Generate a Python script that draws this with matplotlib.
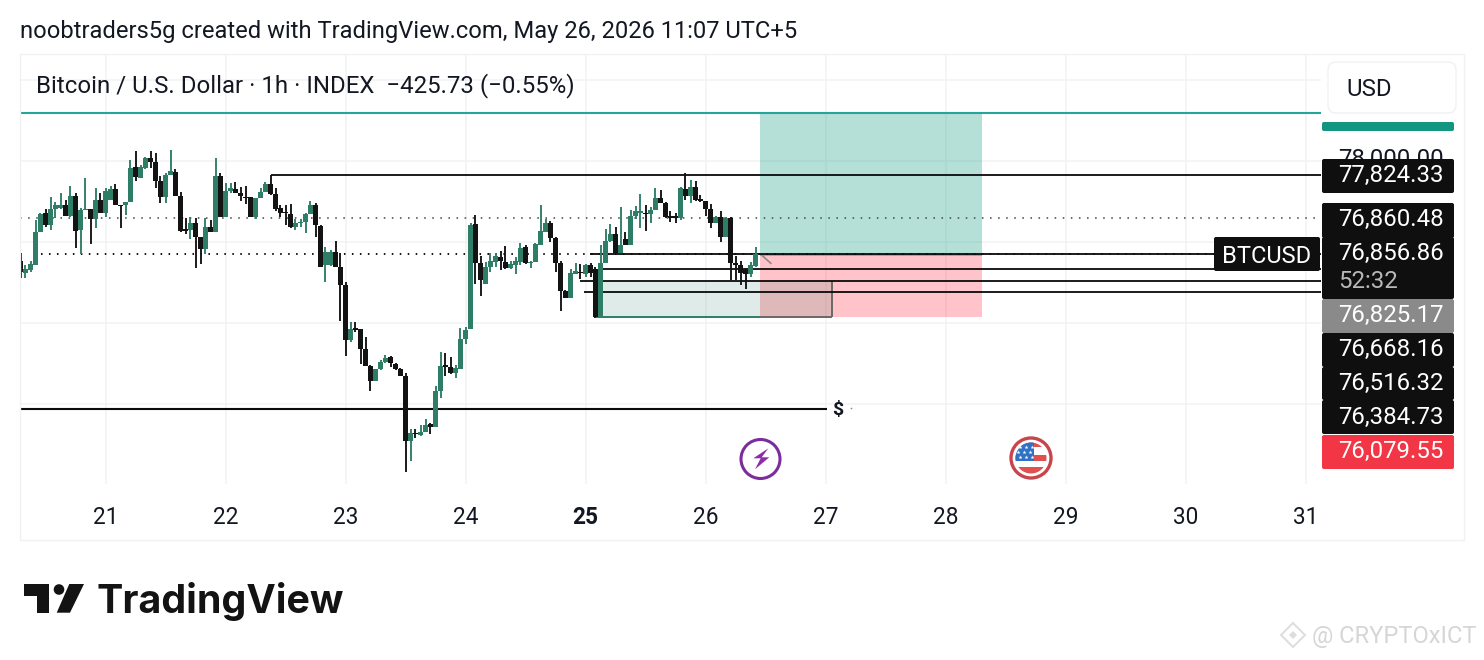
import numpy as np
import matplotlib
matplotlib.use('Agg')
import matplotlib.pyplot as plt
from matplotlib.patches import Rectangle, FancyBboxPatch, Circle, Polygon

plt.rcParams['font.family'] = ['Roboto', 'DejaVu Sans']

# hourly candles
opens = [
    76770, 76622, 76655, 76716, 77128, 77354, 77210, 77404, 77416, 77457,
    77321, 77572, 77149, 77395, 77408, 77280, 77519, 77354, 77519, 77650,
    77457, 77453, 77498, 77922, 77795, 77910, 78033, 77984, 77757, 77560,
    77827, 77869, 77572, 77157, 77149, 77231, 77066, 76918, 77190, 77128,
    77815, 77305, 77630, 77655, 77609, 77560, 77560, 77313, 77539, 77613,
    77716, 77593, 77416, 77375, 77342, 77190, 77231, 77251, 77346, 77457,
    77202, 76716, 76716, 76881, 76688, 76470, 75791, 75935, 75922, 75675,
    75474, 75289, 75428, 75515, 75577, 75490, 75433, 75346, 74548, 74647,
    74618, 74659, 74749, 74712, 75161, 75482, 75461, 75379, 75433, 75799,
    75926, 77218, 76737, 76482, 76688, 76758, 76819, 76758, 76675, 76716,
    76758, 76935, 76737, 76758, 76963, 77128, 77239, 77054, 76737, 76400,
    76313, 76605, 76634, 76605, 76716, 76663, 76087, 76745, 77013, 77095,
    76869, 77037, 76963, 77321, 77354, 77362, 77346, 77395, 77548, 77486,
    77321, 77321, 77292, 77650, 77572, 77683, 77527, 77506, 77404, 77231,
    77313, 77066, 77292, 76737, 76716, 76655, 76605, 76704]
highs = [
    76860, 76716, 76766, 77272, 77354, 77404, 77560, 77498, 77601, 77519,
    77692, 77601, 77416, 77786, 77408, 77663, 77601, 77663, 77692, 77712,
    77457, 77498, 78013, 78124, 77950, 78045, 78124, 78095, 77815, 77848,
    78136, 77897, 77622, 77292, 77305, 77292, 77066, 77292, 77272, 78033,
    77856, 77733, 77733, 77745, 77683, 77692, 77560, 77548, 77663, 77745,
    77827, 77663, 77457, 77457, 77465, 77280, 77280, 77354, 77511, 77478,
    77210, 76943, 76902, 77017, 76860, 76511, 76017, 76017, 75922, 75823,
    75483, 75428, 75540, 75605, 75593, 75500, 75440, 75379, 74692, 74692,
    74741, 74811, 74762, 75223, 75647, 75626, 75585, 75482, 75935, 75955,
    77231, 77334, 76827, 76749, 76860, 76860, 76893, 76951, 76770, 76819,
    76984, 76963, 76770, 76985, 77457, 77280, 77264, 77066, 76770, 76408,
    76663, 76737, 76725, 76729, 76737, 76696, 76963, 77157, 77223, 77190,
    77428, 77128, 77395, 77445, 77589, 77457, 77437, 77663, 77642, 77498,
    77383, 77354, 77683, 77848, 77766, 77757, 77581, 77511, 77469, 77320,
    77383, 77305, 77305, 76827, 76770, 76663, 76758, 76935]
lows = [
    76560, 76560, 76634, 76716, 77128, 77190, 77149, 77292, 77408, 77321,
    77313, 76922, 76848, 77395, 76972, 77177, 77354, 77313, 77519, 77453,
    77177, 77334, 77498, 77757, 77786, 77900, 77918, 77663, 77486, 77478,
    77827, 77572, 77128, 77095, 77033, 76675, 76725, 76848, 77128, 77128,
    77305, 77305, 77601, 77601, 77506, 77469, 77313, 77280, 77539, 77613,
    77581, 77387, 77305, 77210, 77169, 77149, 77190, 77116, 77346, 77066,
    76688, 76511, 76700, 76688, 76029, 75597, 75770, 75893, 75494, 75474,
    75165, 75289, 75420, 75503, 75453, 75425, 75340, 74165, 74301, 74577,
    74610, 74650, 74630, 74712, 75070, 75346, 75367, 75317, 75433, 75737,
    75926, 76482, 76338, 76482, 76634, 76688, 76655, 76667, 76667, 76601,
    76716, 76729, 76675, 76750, 76963, 77128, 77002, 76634, 76149, 76313,
    76313, 76605, 76544, 76573, 76573, 76066, 76087, 76745, 77005, 76860,
    76869, 76963, 76963, 77280, 77169, 77140, 77231, 77395, 77486, 77292,
    77251, 77239, 77272, 77519, 77478, 77511, 77498, 77321, 77177, 77231,
    77005, 77058, 76531, 76531, 76470, 76420, 76573, 76696]
closes = [
    76634, 76663, 76725, 77128, 77346, 77210, 77408, 77457, 77457, 77321,
    77572, 77136, 77395, 77408, 77280, 77519, 77354, 77630, 77650, 77453,
    77445, 77498, 77910, 77807, 77922, 78033, 77984, 77757, 77560, 77827,
    77881, 77572, 77136, 77136, 77231, 77058, 76918, 77190, 77128, 77815,
    77305, 77630, 77663, 77609, 77572, 77539, 77313, 77548, 77613, 77716,
    77593, 77408, 77362, 77354, 77190, 77231, 77251, 77346, 77457, 77210,
    76696, 76881, 76881, 76688, 76470, 75791, 75922, 75914, 75675, 75474,
    75289, 75428, 75523, 75572, 75503, 75433, 75346, 74548, 74638, 74626,
    74659, 74741, 74721, 75161, 75470, 75461, 75379, 75441, 75799, 75914,
    77210, 76737, 76531, 76688, 76770, 76832, 76770, 76675, 76725, 76766,
    76930, 76737, 76758, 76972, 77136, 77239, 77054, 76737, 76400, 76313,
    76622, 76646, 76614, 76716, 76614, 76079, 76745, 77013, 77095, 76869,
    76963, 76963, 77321, 77383, 77383, 77346, 77395, 77548, 77486, 77305,
    77301, 77292, 77663, 77572, 77683, 77519, 77511, 77404, 77231, 77313,
    77066, 77292, 76737, 76716, 76614, 76605, 76716, 76852]

day_ticks = [21, 22, 23, 24, 25, 26, 27, 28, 29, 30, 31]
price_grid = [79000, 78000, 77000, 76000, 75000]

# drawn levels: price, start day
level_prices = [77824.33, 76856.86, 76668.16, 76516.32, 76384.73]
level_starts = [22.38, 25.04, 25.15, 24.95, 24.99]
dollar_price, dollar_end = 74938, 27.01
target_price = 78593
prev_close_dotted = 77300
last_price = 76856.86
stop_price = 76079.55
position_days = [26.454, 28.304]
box_days = [25.09, 27.055]
box_prices = [76079.55, 76516.32]

# price scale labels, pushed apart by the chart
label_text = ['77,824.33', '76,860.48', '76,856.86', '76,825.17', '76,668.16',
              '76,516.32', '76,384.73', '76,079.55']

GREEN = '#2E7D67'
BLACK = '#131313'
W, H = 1484, 660
L, R, T, B = 20, 1321, 54, 484
PX_PER_DAY = 120
PX_PER_USD = 0.081

fig = plt.figure(figsize=(W / 100, H / 100), dpi=100, facecolor='white')
ax = fig.add_axes([L / W, 1 - B / H, (R - L) / W, (B - T) / H])
ax.set_xlim(21 + (L - 105.5) / PX_PER_DAY, 21 + (R - 105.5) / PX_PER_DAY)
ax.set_ylim(78000 - (B - 161) / PX_PER_USD, 78000 + (161 - T) / PX_PER_USD)
x_right = ax.get_xlim()[1]
x_left = ax.get_xlim()[0]

for s in ax.spines.values():
    s.set_visible(False)
ax.set_xticks(day_ticks)
ax.set_xticklabels([str(d) for d in day_ticks], fontsize=16.3, color='#131722')
ax.get_xticklabels()[4].set_fontweight('bold')
ax.set_yticks(price_grid)
ax.set_yticklabels([])
ax.tick_params(length=0, axis='both')
ax.tick_params(axis='x', pad=15.5)
ax.grid(True, color='#F1F2F4', lw=1.1)
ax.set_axisbelow(True)

# long position tool
ax.add_patch(Rectangle((position_days[0], last_price), position_days[1] - position_days[0],
                       target_price - last_price, fc='#089981', alpha=0.3, ec='none', zorder=1))
ax.add_patch(Rectangle((position_days[0], stop_price), position_days[1] - position_days[0],
                       last_price - stop_price, fc='#FF3B4D', alpha=0.3, ec='none', zorder=1))
ax.add_patch(Rectangle((box_days[0], box_prices[0]), box_days[1] - box_days[0],
                       box_prices[1] - box_prices[0], fc=GREEN, alpha=0.15, ec='none', zorder=1.2))
ax.hlines(box_prices[0], box_days[0], position_days[0], color=GREEN, lw=1.4, zorder=1.5)
ax.hlines(box_prices[0], position_days[0], box_days[1], color='#6E6664', lw=1.4, zorder=1.5)
ax.vlines(box_days[1], box_prices[0], box_prices[1], color='#6E6664', lw=1.4, zorder=1.5)
ax.hlines(last_price - 15, position_days[0], position_days[1], color='#9A9A9A', lw=1.2, zorder=1.5)
ax.plot([position_days[0] + 0.015, position_days[0] + 0.09], [last_price - 20, last_price - 120],
        color='#8A8A8A', lw=1.2, zorder=1.5)

# levels
ax.hlines(target_price, x_left, x_right, color='#26A69A', lw=1.5, zorder=2)
ax.hlines(prev_close_dotted, x_left, x_right, color='#555555', lw=1.2, linestyle=(0, (0.95, 3.9)), zorder=2)
ax.hlines(last_price, 20.46, x_right, color='#111111', lw=1.4, linestyle=(0, (0.8, 3.3)), zorder=2)
ax.hlines(level_prices, level_starts, x_right, color='#0A0A0A', lw=1.3, zorder=2.5)
ax.hlines(dollar_price, x_left, dollar_end, color='#0A0A0A', lw=1.5, zorder=2.5)

# candles
days = 21 + (np.arange(len(opens)) - 17) / 24
o, h, l, c = map(np.array, (opens, highs, lows, closes))
colors = [GREEN if up else BLACK for up in c >= o]
ax.vlines(days, l, h, colors=colors, lw=1.35, zorder=3)
ax.bar(days, np.maximum(np.abs(c - o), 16), bottom=np.minimum(o, c), width=4.6 / PX_PER_DAY,
       color=colors, lw=0, zorder=3)

# everything around the chart, in picture pixels
ov = fig.add_axes([0, 0, 1, 1], facecolor='none')
ov.set_xlim(0, W)
ov.set_ylim(H, 0)
ov.axis('off')

ov.add_patch(Rectangle((20, 54), 1444, 486, fc='none', ec='#F0F1F3', lw=1))
ov.text(20, 38, 'noobtraders5g created with TradingView.com, May 26, 2026 11:07 UTC+5',
        fontsize=17.15, color='#131722', va='baseline')
ov.text(36, 92, 'Bitcoin / U.S. Dollar · 1h · INDEX  −425.73 (−0.55%)',
        fontsize=17.25, color='#131722', va='baseline')

ov.add_patch(FancyBboxPatch((1328, 62), 128, 51, boxstyle='round,pad=0,rounding_size=8',
                            fc='white', ec='#F0F1F3', lw=1))
ov.text(1346, 96, 'USD', fontsize=17.3, color='#131722', va='baseline')


def price_box(y0, y1, color, x0=1322, x1=1454):
    ov.add_patch(FancyBboxPatch((x0, y0), x1 - x0, y1 - y0, boxstyle='round,pad=0,rounding_size=2',
                                fc=color, ec='none', zorder=4))


price_box(122, 131, '#11967F')
ov.text(1338, 166, '78,000.00', fontsize=17.3, color='#131722', va='baseline', zorder=3)

box_tops = [159, 203, 237, 299, 333, 367, 400, 435]
box_bottoms = [193, 238, 299, 333, 367, 400, 434, 469]
box_colors = ['#0F0F0F', '#0F0F0F', '#0F0F0F', '#8A8A8A', '#0F0F0F', '#0F0F0F', '#0F0F0F', '#F23645']
baselines = [182, 226, 260, 322, 356, 390, 424, 458]
for txt, y0, y1, col, yb in zip(label_text, box_tops, box_bottoms, box_colors, baselines):
    price_box(y0, y1, col)
    ov.text(1338, yb, txt, fontsize=17.3, color='white', va='baseline', zorder=5)
ov.text(1338, 288, '52:32', fontsize=17.3, color='#B8B8B8', va='baseline', zorder=5)

price_box(237, 271, '#0F0F0F', x0=1214, x1=1320)
ov.text(1267, 263, 'BTCUSD', fontsize=17, color='white', ha='center', va='baseline', zorder=5)

ov.text(838, 415, '$', fontsize=14, fontweight='bold', color='#131722', ha='center', va='baseline')
ov.scatter([851], [408], s=1.5, color='#888888', lw=0)

# event icons
ov.add_patch(Circle((760.5, 459), 19.5, fc='white', ec='#7B2D9B', lw=2.2, zorder=4))
ov.add_patch(Polygon([(768.3, 448.3), (753.3, 458.3), (760.7, 458.3), (755, 469.3),
                      (769.3, 457.3), (761.7, 457.3)], fc='#8E2DA8', ec='none', zorder=5))

ov.add_patch(Circle((1031, 458), 20, fc='white', ec='#C8454B', lw=2.4, zorder=4))
clip = Circle((1031, 458), 15.5, transform=ov.transData)
for y0, y1 in [(442, 447), (455, 461), (467, 474)]:
    r = Rectangle((1014, y0), 34, y1 - y0, fc='#E0504F', ec='none', zorder=5)
    ov.add_patch(r)
    r.set_clip_path(clip)
r = Rectangle((1014, 442), 20, 19, fc='#2F72C4', ec='none', zorder=6)
ov.add_patch(r)
r.set_clip_path(clip)
ov.scatter([1020, 1026, 1032, 1018, 1024, 1030, 1020, 1026, 1032],
           [447, 447, 447, 452, 452, 452, 457, 457, 457], s=9, marker='*', color='white', lw=0, zorder=7)

# TradingView logo
ov.add_patch(Polygon([(24, 584), (49.3, 584), (49.3, 612.7), (37.3, 612.7), (37.3, 596), (24, 596)],
                     fc='#131313', ec='none'))
ov.add_patch(Circle((59, 589.5), 5.3, fc='#131313', ec='none'))
ov.add_patch(Polygon([(69.3, 584), (84, 584), (70, 612.7), (56.7, 612.7)], fc='#131313', ec='none'))
ov.text(97, 612.7, 'TradingView', fontsize=28.4, family=['Inter', 'DejaVu Sans'], fontweight='bold',
        color='#131313', va='baseline')

# watermark
ov.add_patch(Polygon([(1293, 623), (1305, 635), (1293, 647), (1281, 635)], fc='none', ec='#DDDDDD', lw=1.4))
ov.add_patch(Polygon([(1293, 631), (1297, 635), (1293, 639), (1289, 635)], fc='#DDDDDD', ec='none'))
ov.text(1312, 643, '@ CRYPTOxICT', fontsize=17, color='#D6D6D6', va='baseline')

fig.savefig('out.png', dpi=100)
